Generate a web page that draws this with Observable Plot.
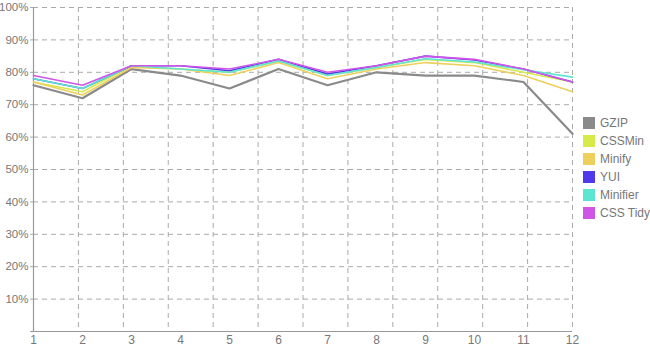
<!DOCTYPE html>
<html>
<head>
<meta charset="utf-8">
<script src="https://cdn.jsdelivr.net/npm/d3@7"></script>
<script src="https://cdn.jsdelivr.net/npm/@observablehq/plot@0.6"></script>
<style>
  html, body { margin: 0; padding: 0; background: #fff; }
  #wrap { position: relative; width: 650px; height: 350px; font-family: "Liberation Sans", Arial, sans-serif; }
  #legend { position: absolute; left: 583px; top: 114px; width: 67px; font-size: 12px; color: #777; white-space: nowrap; }
  .row { display: flex; align-items: center; height: 18px; white-space: nowrap; }
  .sw { width: 12px; height: 12px; margin-right: 5px; flex: none; }
</style>
</head>
<body>
<div id="wrap"><div id="chart"></div><div id="legend"></div></div>
<script>
const runs = [1,2,3,4,5,6,7,8,9,10,11,12];
const seriesNames = ["GZIP", "CSSMin", "Minify", "YUI", "Minifier", "CSS Tidy"];
const colors = ["#8a8a8a", "#d6ea4a", "#edd05c", "#5039ea", "#5ce6d2", "#cf55e8"];
const gzip     = [76, 72, 81, 79, 75, 81, 76, 80, 79, 79, 77, 61];
const cssmin   = [77, 74, 82, 81, 80, 83.5, 79, 81.5, 84, 83, 80, 77];
const minify   = [77, 73, 81.5, 81, 79, 83, 78, 81, 83, 82, 79, 74];
const yui      = [78, 75, 82, 82, 80.5, 84, 79.5, 82, 85, 83.8, 81, 77];
const minifier = [78, 75, 82, 81, 80, 83.5, 79, 81.5, 84.2, 83.2, 80.8, 78.5];
const cssTidy  = [79, 76, 82, 82, 81, 84, 80, 82, 85, 84, 81, 77];
const yTicks = [10,20,30,40,50,60,70,80,90,100];
const gridDivisions = 12;

const values = [gzip, cssmin, minify, yui, minifier, cssTidy];
const data = [];
seriesNames.forEach((s, i) => runs.forEach((r, j) => data.push({series: s, run: r, value: values[i][j]})));
const xGrid = d3.range(1, gridDivisions + 1).map(k => 1 + k * (runs.length - 1) / gridDivisions);

const plot = Plot.plot({
  width: 650,
  height: 350,
  marginLeft: 33,
  marginRight: 78,
  marginTop: 7,
  marginBottom: 19,
  style: {fontFamily: "Liberation Sans, Arial, sans-serif", fontSize: "12px", color: "#777", background: "#fff"},
  x: {domain: [1, 12]},
  y: {domain: [0, 100]},
  color: {domain: seriesNames, range: colors},
  marks: [
    Plot.ruleY(yTicks, {stroke: "#aaa", strokeDasharray: "5,4", strokeWidth: 1}),
    Plot.ruleX(xGrid, {stroke: "#aaa", strokeDasharray: "5,4", strokeWidth: 1}),
    Plot.axisY(yTicks, {tickFormat: d => d + "%", tickSize: 3, tickPadding: 2, stroke: "#aaa", label: null, fontSize: 11.5}),
    Plot.axisX(runs, {tickSize: 0, tickPadding: 4, label: null, fontSize: 12}),
    Plot.ruleX([1], {stroke: "#999", strokeWidth: 1.2}),
    Plot.ruleY([0], {stroke: "#999", strokeWidth: 1.2, x1: 0.94, x2: 12}),
    ...seriesNames.map((s, i) => Plot.line(data.filter(d => d.series === s), {
      x: "run", y: "value", stroke: colors[i], strokeWidth: i === 0 ? 2.2 : 1.6
    }))
  ]
});
document.getElementById("chart").appendChild(plot);

const legend = document.getElementById("legend");
seriesNames.forEach((s, i) => {
  const row = document.createElement("div");
  row.className = "row";
  row.innerHTML = `<div class="sw" style="background:${colors[i]}"></div><span>${s}</span>`;
  legend.appendChild(row);
});
</script>
</body>
</html>
